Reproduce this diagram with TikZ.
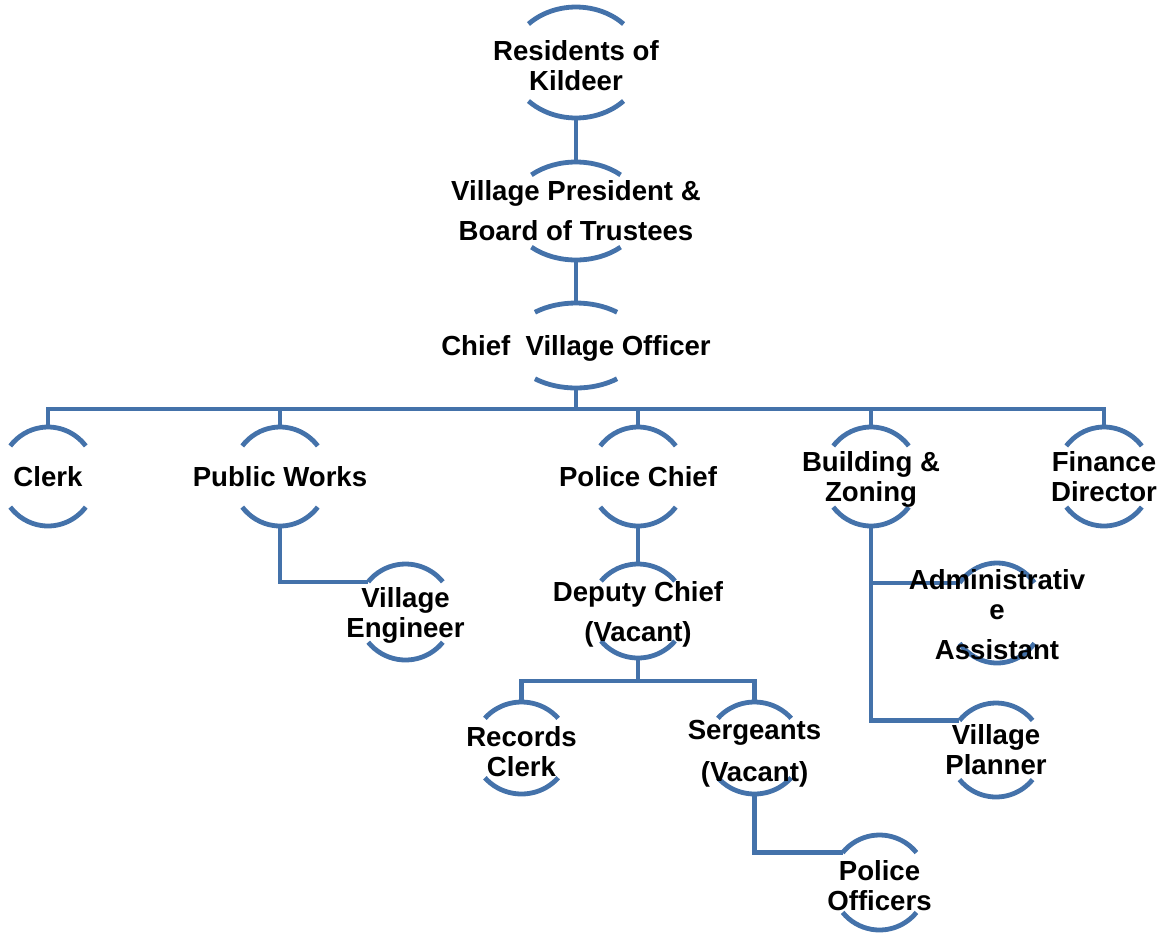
\documentclass[tikz,border=0pt]{standalone}
\usepackage{fontspec}
\setmainfont{Liberation Sans}
\usetikzlibrary{shapes.geometric}

\definecolor{chartblue}{RGB}{68,114,170}
\tikzset{
  unit/.style 2 args={ellipse, minimum width=#1pt, minimum height=#2pt, inner sep=0pt, outer sep=0pt},
  arcline/.style={draw=chartblue, line width=2.4pt},
  link/.style={draw=chartblue, line width=2.2pt},
  txt/.style={font=\bfseries\fontsize{13.8}{15}\selectfont, align=center, inner sep=0pt},
  txt2/.style={txt, yshift=-1.7pt},
}

\begin{document}
\begin{tikzpicture}[x=0.5pt,y=0.5pt]
\useasboundingbox (0,0) rectangle (1171,-938);

% half circles: name/x/y/x radius/y radius
\foreach \n/\x/\y/\a/\b in {res/576/62.5/66/55.5, pres/576/211/66/49, cvo/576/345.5/66/42.5,
    clerk/48/476.5/48/49.5, pw/280/476.5/48/49.5, pc/638/476.5/48/49.5, bz/871/476.5/48/49.5, fin/1104/476.5/48/49.5,
    eng/405.5/612/48/48, dep/638/611/48/47, rc/521.5/748/48/46, sg/754.5/748/48/46,
    po/879.5/882.5/47.5/47.5, adm/997/613/47/50, vp/996/750/47/47}{
  \node[unit={\a}{\b}] (\n) at (\x,-\y) {};
  \pgfmathsetmacro\t{atan(0.81*\a/\b)}
  \pgfmathsetmacro\u{180-\t}
  \draw[arcline] (\n.39) arc[start angle=\t, end angle=\u, x radius=\a, y radius=\b]
    (\n.-39) arc[start angle=-\t, end angle=-\u, x radius=\a, y radius=\b];
}

\draw[link] (res.south) -- (pres.north);
\draw[link] (pres.south) -- (cvo.north);
\coordinate (bus) at (576,-409);
\draw[link] (cvo.south) -- (bus);
\foreach \c in {clerk,pw,pc,bz,fin} \draw[link] (bus) -| (\c.north);
\draw[link] (pw.south) |- (eng.141);
\draw[link] (pc.south) -- (dep.north);
\coordinate (bus2) at (638,-681);
\draw[link] (dep.south) -- (bus2);
\foreach \c in {rc,sg} \draw[link] (bus2) -| (\c.north);
\draw[link] (sg.south) |- (po.141);
\draw[link] (bz.south) |- (adm.141);
\draw[link] (bz.south) |- (vp.141);

\node[txt2] (res-t) at (res) {Residents of\\Kildeer};
\node[txt] (pres-t) at (pres) {Village President \&\\[5pt]Board of Trustees};
\node[txt, yshift=-1.5pt] (cvo-t) at (cvo) {Chief\ \ Village Officer};
\node[txt] (clerk-t) at (clerk) {Clerk};
\node[txt] (pw-t) at (pw) {Public Works};
\node[txt] (pc-t) at (pc) {Police Chief};
\node[txt2] (bz-t) at (bz) {Building \&\\Zoning};
\node[txt] (fin-t) at (fin) {Finance\\Director};
\node[txt2] (eng-t) at (eng) {Village\\Engineer};
\node[txt2] (dep-t) at (dep) {Deputy Chief\\[5pt](Vacant)};
\node[txt2] (rc-t) at (rc) {Records\\Clerk};
\node[txt, yshift=-3pt] (sg-t) at (sg) {Sergeants\\[6pt](Vacant)};
\node[txt2] (po-t) at (po) {Police\\Officers};
\node[txt, yshift=-1pt] (adm-t) at (adm) {Administrativ\\e\\[5pt]Assistant};
\node[txt] (vp-t) at (vp) {Village\\Planner};
\end{tikzpicture}
\end{document}
